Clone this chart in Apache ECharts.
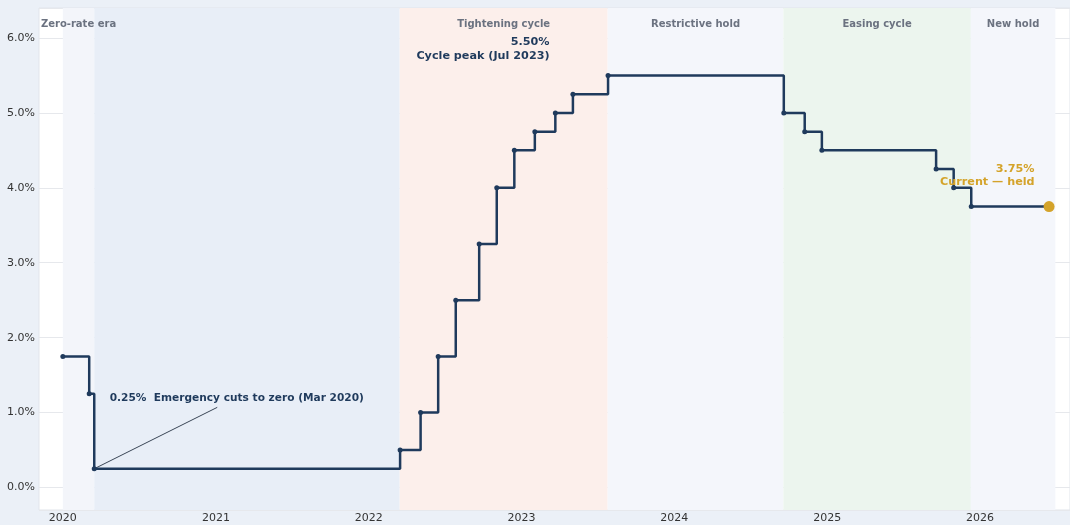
<!DOCTYPE html>
<html>
<head>
<meta charset="utf-8">
<script src="https://cdn.jsdelivr.net/npm/echarts@6/dist/echarts.min.js"></script>
<style>
html,body{margin:0;padding:0;background:#ebf0f7;}
#chart{width:1070px;height:525px;}
</style>
</head>
<body>
<div id="chart"></div>
<script>
// ---- data ----
const rateDates = ['2020-01-01','2020-03-04','2020-03-16','2022-03-17','2022-05-05','2022-06-16','2022-07-28','2022-09-22','2022-11-03','2022-12-15','2023-02-02','2023-03-23','2023-05-04','2023-07-27','2024-09-19','2024-11-08','2024-12-19','2025-09-18','2025-10-30','2025-12-11'];
const rateValues = [1.75,1.25,0.25,0.50,1.00,1.75,2.50,3.25,4.00,4.50,4.75,5.00,5.25,5.50,5.00,4.75,4.50,4.25,4.00,3.75];
const currentDate = '2026-06-15';
const currentValue = 3.75;
const peakDate = '2023-07-27';

const bandNames  = ['Zero-rate era','','Tightening cycle','Restrictive hold','Easing cycle','New hold'];
const bandStarts = ['2020-01-01','2020-03-16','2022-03-16','2023-07-26','2024-09-18','2025-12-10'];
const bandEnds   = ['2020-03-16','2022-03-16','2023-07-26','2024-09-18','2025-12-10','2026-06-30'];
const bandColors = ['#f3f5fa','#e8eef7','#fcefeb','#f4f6fb','#ecf5ee','#f4f6fb'];

const yTicks = [0,1,2,3,4,5,6];
const xMin = '2019-11-05';
const xMax = '2026-08-04';

const emergencyFrom = ['2020-03-16', 0.25];
const emergencyTo = ['2021-01-04', 1.07];
const emergencyTextAt = ['2020-04-22', 1.19];
const emergencyText = '0.25%  Emergency cuts to zero (Mar 2020)';
const peakText = '5.50%\nCycle peak (Jul 2023)';
const currentText = '3.75%\nCurrent \u2014 held';

// ---- build ----
const NAVY = '#1f3a5c';
const GOLD = '#d4a32a';
const FONT = 'DejaVu Sans';

const lineData = rateDates.map((d, i) => {
  const item = { value: [d, rateValues[i]] };
  if (d === peakDate) {
    item.label = {
      show: true, formatter: peakText, position: 'left', distance: 0,
      offset: [-56, -26], align: 'right', color: NAVY, fontWeight: 'bold',
      fontSize: 11.2, lineHeight: 14, fontFamily: FONT
    };
  }
  return item;
});
lineData.push({
  value: [currentDate, currentValue],
  symbolSize: 11,
  itemStyle: { color: GOLD },
  label: {
    show: true, formatter: currentText, position: 'left', distance: 0,
    offset: [-9, -31], align: 'right', color: GOLD, fontWeight: 'bold',
    fontSize: 11.2, lineHeight: 13, fontFamily: FONT
  }
});

const markAreaData = bandNames.map((n, i) => [
  { name: n, xAxis: bandStarts[i], itemStyle: { color: bandColors[i] } },
  { xAxis: bandEnds[i] }
]);

const chart = echarts.init(document.getElementById('chart'));
chart.setOption({
  animation: false,
  backgroundColor: '#ebf0f7',
  textStyle: { fontFamily: FONT },
  grid: {
    show: true, left: 39, right: 0, top: 8, bottom: 15,
    backgroundColor: '#ffffff', borderColor: '#e1e5eb', borderWidth: 1
  },
  xAxis: {
    type: 'time',
    min: xMin, max: xMax,
    splitNumber: 6,
    axisLine: { show: false },
    axisTick: { show: false },
    splitLine: { show: false },
    axisLabel: {
      formatter: '{yyyy}', color: '#333', fontSize: 11, margin: 3,
      fontFamily: FONT, showMinLabel: false, showMaxLabel: false
    }
  },
  yAxis: {
    type: 'value',
    min: -0.3, max: 6.4,
    splitNumber: 7,
    axisLine: { show: false },
    axisTick: { show: false },
    splitLine: { show: true, lineStyle: { color: '#e6e8ec', width: 1 } },
    axisLabel: {
      color: '#333', fontSize: 11, margin: 4, fontFamily: FONT,
      showMinLabel: false, showMaxLabel: false,
      formatter: v => yTicks.some(t => Math.abs(t - v) < 1e-6) ? v.toFixed(1) + '%' : ''
    }
  },
  series: [{
    type: 'line',
    step: 'end',
    data: lineData,
    symbol: 'circle',
    symbolSize: 5,
    showSymbol: true,
    itemStyle: { color: NAVY },
    lineStyle: { color: NAVY, width: 2.5 },
    z: 5,
    markArea: {
      silent: true,
      label: {
        show: true, position: 'insideTop', distance: 11, color: '#6b7280',
        fontWeight: 'bold', fontSize: 10, fontFamily: FONT
      },
      data: markAreaData
    },
    markLine: {
      silent: true, symbol: 'none',
      lineStyle: { color: '#3a4656', width: 1, type: 'solid' },
      label: { show: false },
      data: [[{ coord: emergencyFrom }, { coord: emergencyTo }]]
    },
    markPoint: {
      silent: true, symbol: 'circle', symbolSize: 0,
      label: {
        show: true, position: 'right', distance: 0, formatter: emergencyText,
        color: NAVY, fontWeight: 'bold', fontSize: 10.6, fontFamily: FONT
      },
      data: [{ coord: emergencyTextAt }]
    }
  }]
});
</script>
</body>
</html>
